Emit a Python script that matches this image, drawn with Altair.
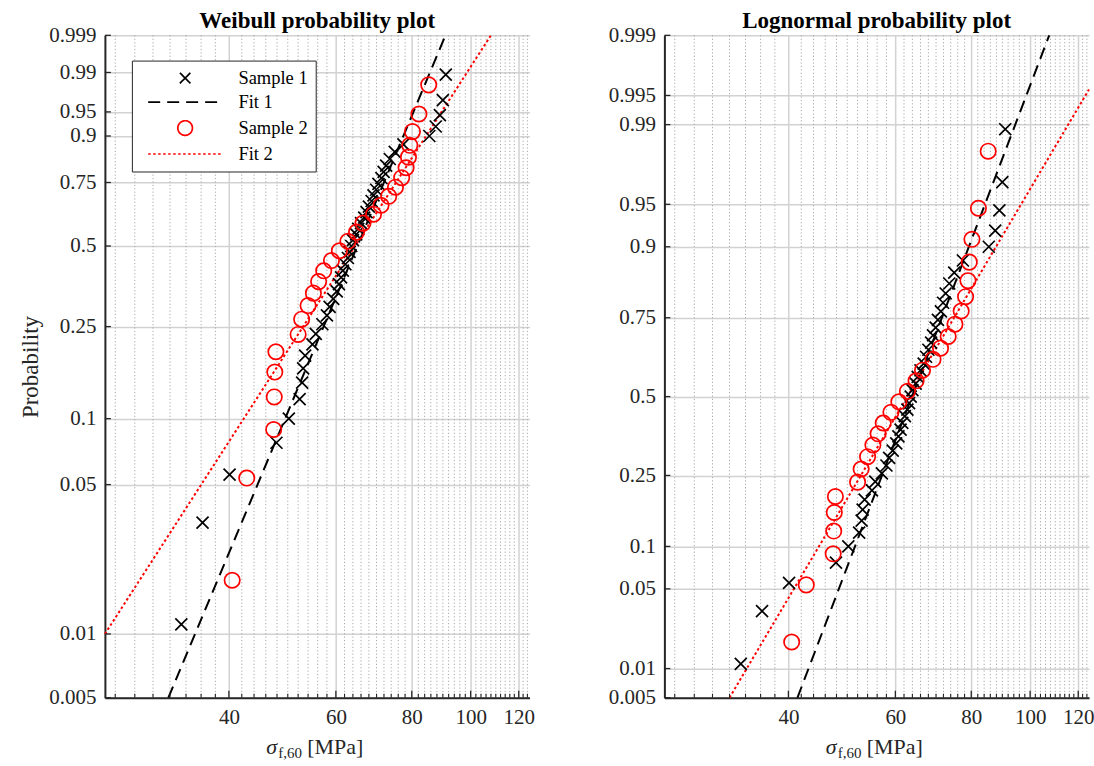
import math
from statistics import NormalDist
import altair as alt
import pandas as pd

# ---------------- data ----------------
# Sample 1 (black crosses): strength [MPa] and plotting probability
s1_strength = [33.4, 36.2, 40.1, 47.9, 50.2, 52.3, 52.8, 53.0, 53.4, 54.9,
               55.6, 57.0, 58.0, 58.6, 59.4, 60.2, 60.7, 61.2, 61.6, 62.2,
               62.8, 63.2, 63.6, 64.0, 64.8, 65.3, 66.0, 66.8, 67.4, 68.0,
               68.7, 69.2, 69.9, 70.5, 71.3, 71.9, 72.6, 73.6, 75.0, 77.5,
               85.5, 87.6, 89.0, 90.0, 91.0]
s1_prob = [0.0111, 0.0333, 0.0556, 0.0778, 0.1, 0.1222, 0.1444, 0.1667, 0.1889, 0.2111,
           0.2333, 0.2556, 0.2778, 0.3, 0.3222, 0.3444, 0.3667, 0.3889, 0.4111, 0.4333,
           0.4556, 0.4778, 0.5, 0.5222, 0.5444, 0.5667, 0.5889, 0.6111, 0.6333, 0.6556,
           0.6778, 0.7, 0.7222, 0.7444, 0.7667, 0.7889, 0.8111, 0.8333, 0.8556, 0.8778,
           0.9, 0.9222, 0.9444, 0.9667, 0.9889]

# Sample 2 (red circles)
s2_strength = [40.5, 42.8, 47.4, 47.5, 47.6, 47.8, 52.0, 52.7, 54.0, 55.1,
               56.2, 57.3, 59.0, 60.8, 62.8, 64.9, 66.5, 69.2, 71.2, 73.3,
               75.2, 77.0, 78.3, 79.0, 79.4, 80.2, 82.2, 85.3]
s2_prob = [0.0179, 0.0536, 0.0893, 0.125, 0.1607, 0.1964, 0.2321, 0.2679, 0.3036, 0.3393,
           0.375, 0.4107, 0.4464, 0.4821, 0.5179, 0.5536, 0.5893, 0.625, 0.6607, 0.6964,
           0.7321, 0.7679, 0.8036, 0.8393, 0.875, 0.9107, 0.9464, 0.9821]

# fitted lines (end points)
weib_fit1_strength = [31.8, 90.9]
weib_fit1_prob = [0.005, 0.999]
weib_fit2_strength = [25.0, 108.0]
weib_fit2_prob = [0.01, 0.999]
logn_fit1_strength = [41.4, 107.5]
logn_fit1_prob = [0.005, 0.999]
logn_fit2_strength = [32.0, 125.0]
logn_fit2_prob = [0.005, 0.9957]

# axis ticks
x_major = [40, 60, 80, 100, 120]
x_minor = [v for v in range(26, 125, 2) if v not in x_major]
weib_ticks = [0.005, 0.01, 0.05, 0.1, 0.25, 0.5, 0.75, 0.9, 0.95, 0.99, 0.999]
logn_ticks = [0.005, 0.01, 0.05, 0.1, 0.25, 0.5, 0.75, 0.9, 0.95, 0.99, 0.995, 0.999]

series_names = ["Sample 1", "Fit 1", "Sample 2", "Fit 2"]
series_colors = ["#000000", "#000000", "#ff0000", "#ff0000"]

# ---------------- styling ----------------
FONT = "Liberation Serif"
TXT = "#262626"
W, H = 425, 663
X_PATH = "M-0.62,-0.62L0.62,0.62M-0.62,0.62L0.62,-0.62"
O_PATH = "M0.86,0A0.86,0.86,0,1,1,-0.86,0A0.86,0.86,0,1,1,0.86,0Z"
L_PATH = "M-4.35,0L4.35,0"

nd = NormalDist()


def weib(p):
    return math.log(-math.log(1.0 - p))


def logn(p):
    return nd.inv_cdf(p)


color_scale = alt.Scale(domain=series_names, range=series_colors)
shape_scale = alt.Scale(domain=series_names, range=[X_PATH, L_PATH, O_PATH, L_PATH])
dash_scale = alt.Scale(domain=series_names, range=[[1, 0], [12, 7], [1, 0], [2.5, 2.5]])
LEG = alt.Legend(title=None, orient="none", legendX=27, legendY=25.3)


def panel(kind):
    if kind == "weib":
        f = weib
        ticks = weib_ticks
        fits = [(weib_fit1_strength, weib_fit1_prob, "Fit 1"),
                (weib_fit2_strength, weib_fit2_prob, "Fit 2")]
        label_expr = "format(1 - exp(-exp(datum.value)), '.3~g')"
        title = "Weibull probability plot"
        ytitle = "Probability"
    else:
        f = logn
        ticks = logn_ticks
        fits = [(logn_fit1_strength, logn_fit1_prob, "Fit 1"),
                (logn_fit2_strength, logn_fit2_prob, "Fit 2")]
        label_expr = "format(cumulativeNormal(datum.value), '.3~g')"
        title = "Lognormal probability plot"
        ytitle = None

    xscale = alt.Scale(type="log", domain=[25, 125], nice=False)
    yscale = alt.Scale(domain=[f(ticks[0]), f(ticks[-1])], nice=False, zero=False)
    tvals = [f(p) for p in ticks]

    xaxis = alt.Axis(values=x_major, format="d", grid=True, ticks=False, title=None,
                     labelPadding=9)
    if ytitle:
        yaxis = alt.Axis(values=tvals, labelExpr=label_expr, grid=True, ticks=False,
                         labelPadding=9, title=ytitle, titlePadding=6)
    else:
        yaxis = alt.Axis(values=tvals, labelExpr=label_expr, grid=True, ticks=False,
                         labelPadding=9, title=None)

    X = lambda: alt.X("v:Q", scale=xscale, axis=xaxis)
    Y = lambda: alt.Y("t:Q", scale=yscale, axis=yaxis)

    minor_df = pd.DataFrame({"v": x_minor})
    major_df = pd.DataFrame({"v": x_major})
    ytick_df = pd.DataFrame({"t": tvals})

    layers = []
    # minor (dotted) vertical grid
    layers.append(alt.Chart(minor_df).mark_rule(
        color="#a8a8a8", strokeWidth=1, strokeDash=[1.2, 2.2]).encode(x=X()))

    for xs, ps, name in fits:
        df = pd.DataFrame({"v": xs, "t": [f(p) for p in ps], "series": name})
        layers.append(
            alt.Chart(df).mark_line(strokeWidth=2).encode(
                x=X(), y=Y(),
                color=alt.Color("series:N", scale=color_scale, legend=LEG),
                strokeDash=alt.StrokeDash("series:N", scale=dash_scale, legend=LEG),
            )
        )

    d1 = pd.DataFrame({"v": s1_strength, "t": [f(p) for p in s1_prob], "series": "Sample 1"})
    d2 = pd.DataFrame({"v": s2_strength, "t": [f(p) for p in s2_prob], "series": "Sample 2"})
    for df, size in ((d1, 375), (d2, 320)):
        layers.append(
            alt.Chart(df).mark_point(filled=False, size=size, strokeWidth=1.7, opacity=1).encode(
                x=X(), y=Y(),
                color=alt.Color("series:N", scale=color_scale, legend=LEG),
                shape=alt.Shape("series:N", scale=shape_scale, legend=LEG),
            )
        )

    # inward ticks
    layers.append(alt.Chart(major_df).mark_rule(color=TXT, strokeWidth=1.3).encode(
        x=X(), y=alt.value(H), y2=alt.value(H - 7)))
    layers.append(alt.Chart(minor_df).mark_rule(color=TXT, strokeWidth=1.1).encode(
        x=X(), y=alt.value(H), y2=alt.value(H - 4)))
    layers.append(alt.Chart(ytick_df).mark_rule(color=TXT, strokeWidth=1.3).encode(
        y=Y(), x=alt.value(0), x2=alt.value(6)))

    # x-axis title  sigma_{f,60} [MPa]
    t_sig = alt.Chart(pd.DataFrame({"s": ["σ"]})).mark_text(
        font=FONT, fontSize=22, fontStyle="italic", color=TXT, align="left", baseline="alphabetic"
    ).encode(text="s:N", x=alt.value(W / 2 - 51), y=alt.value(H + 56))
    t_sub = alt.Chart(pd.DataFrame({"s": ["f,60"]})).mark_text(
        font=FONT, fontSize=15, color=TXT, align="left", baseline="alphabetic"
    ).encode(text="s:N", x=alt.value(W / 2 - 39), y=alt.value(H + 60))
    t_unit = alt.Chart(pd.DataFrame({"s": ["[MPa]"]})).mark_text(
        font=FONT, fontSize=22, color=TXT, align="left", baseline="alphabetic"
    ).encode(text="s:N", x=alt.value(W / 2 - 10), y=alt.value(H + 56))
    layers += [t_sig, t_sub, t_unit]

    return alt.layer(*layers).properties(
        width=W, height=H,
        title=alt.TitleParams(title, font=FONT, fontSize=23, fontWeight="bold",
                              color="black", anchor="middle", offset=-9),
    )


chart = alt.hconcat(panel("weib"), panel("logn"), spacing=73).properties(
    padding={"left": 19, "top": 10, "right": 0, "bottom": 0}
).configure_view(stroke=None).configure_axis(
    labelFont=FONT, labelFontSize=21, labelColor=TXT,
    titleFont=FONT, titleFontSize=23, titleFontWeight="normal", titleColor=TXT,
    domainColor=TXT, domainWidth=2, gridColor="#d2d2d2", gridWidth=1.5,
    labelFlush=False, labelOverlap=False,
).configure_legend(
    padding=8, strokeColor=TXT, fillColor="white", cornerRadius=0,
    labelFont=FONT, labelFontSize=18.5, labelColor="black",
    symbolSize=289, symbolStrokeWidth=1.7, rowPadding=5,
    symbolOffset=35.8, labelOffset=43.8,
)

chart.save("out.html", embed_options={"renderer": "svg", "actions": False})
